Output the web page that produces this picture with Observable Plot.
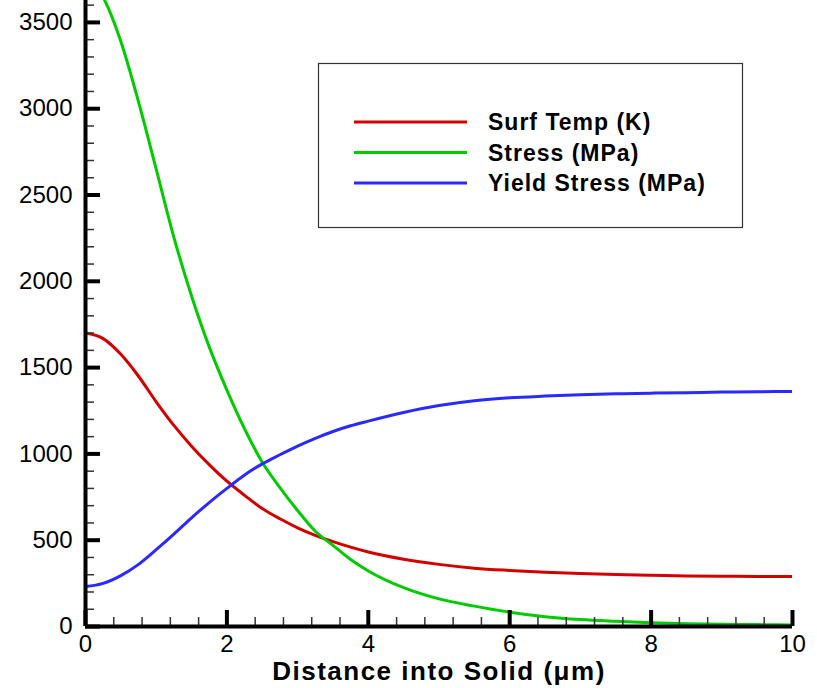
<!DOCTYPE html>
<html>
<head>
<meta charset="utf-8">
<script src="https://cdn.jsdelivr.net/npm/d3@7"></script>
<script src="https://cdn.jsdelivr.net/npm/@observablehq/plot@0.6"></script>
<style>
  body { margin: 0; background: #fff; }
  #chart svg { display: block; }
</style>
</head>
<body>
<div id="chart"></div>
<script>
// Distance into the solid (µm) where each profile is sampled
const distance = [0, 0.25, 0.5, 0.75, 1, 1.25, 1.5, 1.75, 2, 2.25, 2.5, 2.75, 3, 3.25, 3.5, 3.75,
                  4, 4.5, 5, 5.5, 6, 6.5, 7, 7.5, 8, 8.5, 9, 9.5, 10];
// Surface temperature (K)
const surfTemp = [1700, 1668, 1577, 1450, 1302, 1165, 1045, 938, 842, 760, 683, 624, 572, 528, 492, 460,
                  432, 390, 360, 338, 325, 315, 307, 301, 297, 293, 291, 290, 290];
// Thermal stress (MPa)
const stress = [3770, 3645, 3390, 3040, 2650, 2255, 1915, 1620, 1370, 1145, 952, 805, 672, 552, 470, 388,
                322, 225, 160, 118, 83, 57, 40, 30, 22, 16, 13, 11, 9];
// Yield stress (MPa)
const yieldStress = [232, 250, 295, 360, 445, 535, 630, 718, 800, 878, 942, 995, 1045, 1090, 1130, 1163,
                     1190, 1240, 1280, 1308, 1325, 1335, 1343, 1348, 1352, 1355, 1358, 1360, 1362];

const seriesNames = ["Surf Temp (K)", "Stress (MPa)", "Yield Stress (MPa)"];
const seriesColors = ["#d40000", "#00cc00", "#2a2aff"];

const xMajorTicks = [0, 2, 4, 6, 8, 10];
const yMajorTicks = [0, 500, 1000, 1500, 2000, 2500, 3000, 3500];
const xTitle = "Distance into Solid (\u03bcm)";

// Long-format rows for the line mark
const rows = [];
[surfTemp, stress, yieldStress].forEach((values, i) => {
  values.forEach((v, j) => rows.push({series: seriesNames[i], x: distance[j], y: v}));
});

// Minor tick positions between the labelled ticks
const xMinorTicks = d3.range(0, 10.0001, 0.4).map(v => +v.toFixed(2))
  .filter(v => Math.abs(v / 2 - Math.round(v / 2)) > 1e-6);
const yMinorTicks = d3.range(0, 3601, 100).filter(v => v % 500 !== 0);

const font = "'Liberation Sans', Arial, Helvetica, sans-serif";

const chart = Plot.plot({
  width: 817,
  height: 688,
  marginLeft: 85,
  marginRight: 25,
  marginTop: 0,
  marginBottom: 62,
  style: {fontFamily: font, background: "#fff", color: "#000"},
  x: {domain: [0, 10], label: null},
  y: {domain: [0, 3627], label: null},
  color: {domain: seriesNames, range: seriesColors},
  marks: [
    Plot.line(rows, {x: "x", y: "y", z: "series", stroke: "series", strokeWidth: 3, curve: "monotone-x", clip: true}),
    // inward-pointing tick marks
    Plot.axisY({ticks: yMinorTicks, tickSize: -9, tickFormat: () => "", stroke: "#333", strokeWidth: 1.5, label: null}),
    Plot.axisY({ticks: yMajorTicks, tickSize: -15, tickFormat: () => "", stroke: "#000", strokeWidth: 4, label: null}),
    Plot.axisX({ticks: xMinorTicks, tickSize: -9, tickFormat: () => "", stroke: "#333", strokeWidth: 1.5, label: null}),
    Plot.axisX({ticks: xMajorTicks, tickSize: -16, tickFormat: () => "", stroke: "#000", strokeWidth: 4, label: null}),
    // tick labels
    Plot.axisY({ticks: yMajorTicks, tickSize: 0, tickPadding: 13, tickFormat: d => String(d), fontSize: 24, fill: "#000", label: null}),
    Plot.axisX({ticks: xMajorTicks, tickSize: 0, tickPadding: 8, tickFormat: d => String(d), fontSize: 24, fill: "#000", label: null}),
    // axis lines
    Plot.ruleX([0], {stroke: "#000", strokeWidth: 4}),
    Plot.ruleY([0], {stroke: "#000", strokeWidth: 4}),
    // axis title
    Plot.text([xTitle], {frameAnchor: "bottom", dy: 53, fontSize: 26, fontWeight: "bold", fill: "#000"})
  ]
});

document.getElementById("chart").appendChild(chart);

const svg = d3.select(chart);
svg.selectAll("text").filter(function () { return this.textContent === xTitle; })
  .attr("letter-spacing", "1.5px");

// Legend box
const legend = svg.append("g").attr("font-family", font).attr("text-anchor", "start");
legend.append("rect")
  .attr("x", 318.5).attr("y", 63.5).attr("width", 424).attr("height", 164)
  .attr("fill", "#fff").attr("stroke", "#333").attr("stroke-width", 1.2);
seriesNames.forEach((name, i) => {
  const y = 122 + i * 30.5;
  legend.append("line")
    .attr("x1", 354).attr("x2", 467).attr("y1", y).attr("y2", y)
    .attr("stroke", seriesColors[i]).attr("stroke-width", 3);
  legend.append("text")
    .attr("x", 488).attr("y", y + 8)
    .attr("text-anchor", "start")
    .attr("font-size", 23).attr("font-weight", "bold").attr("letter-spacing", "1px")
    .attr("fill", "#000")
    .text(name);
});
</script>
</body>
</html>
